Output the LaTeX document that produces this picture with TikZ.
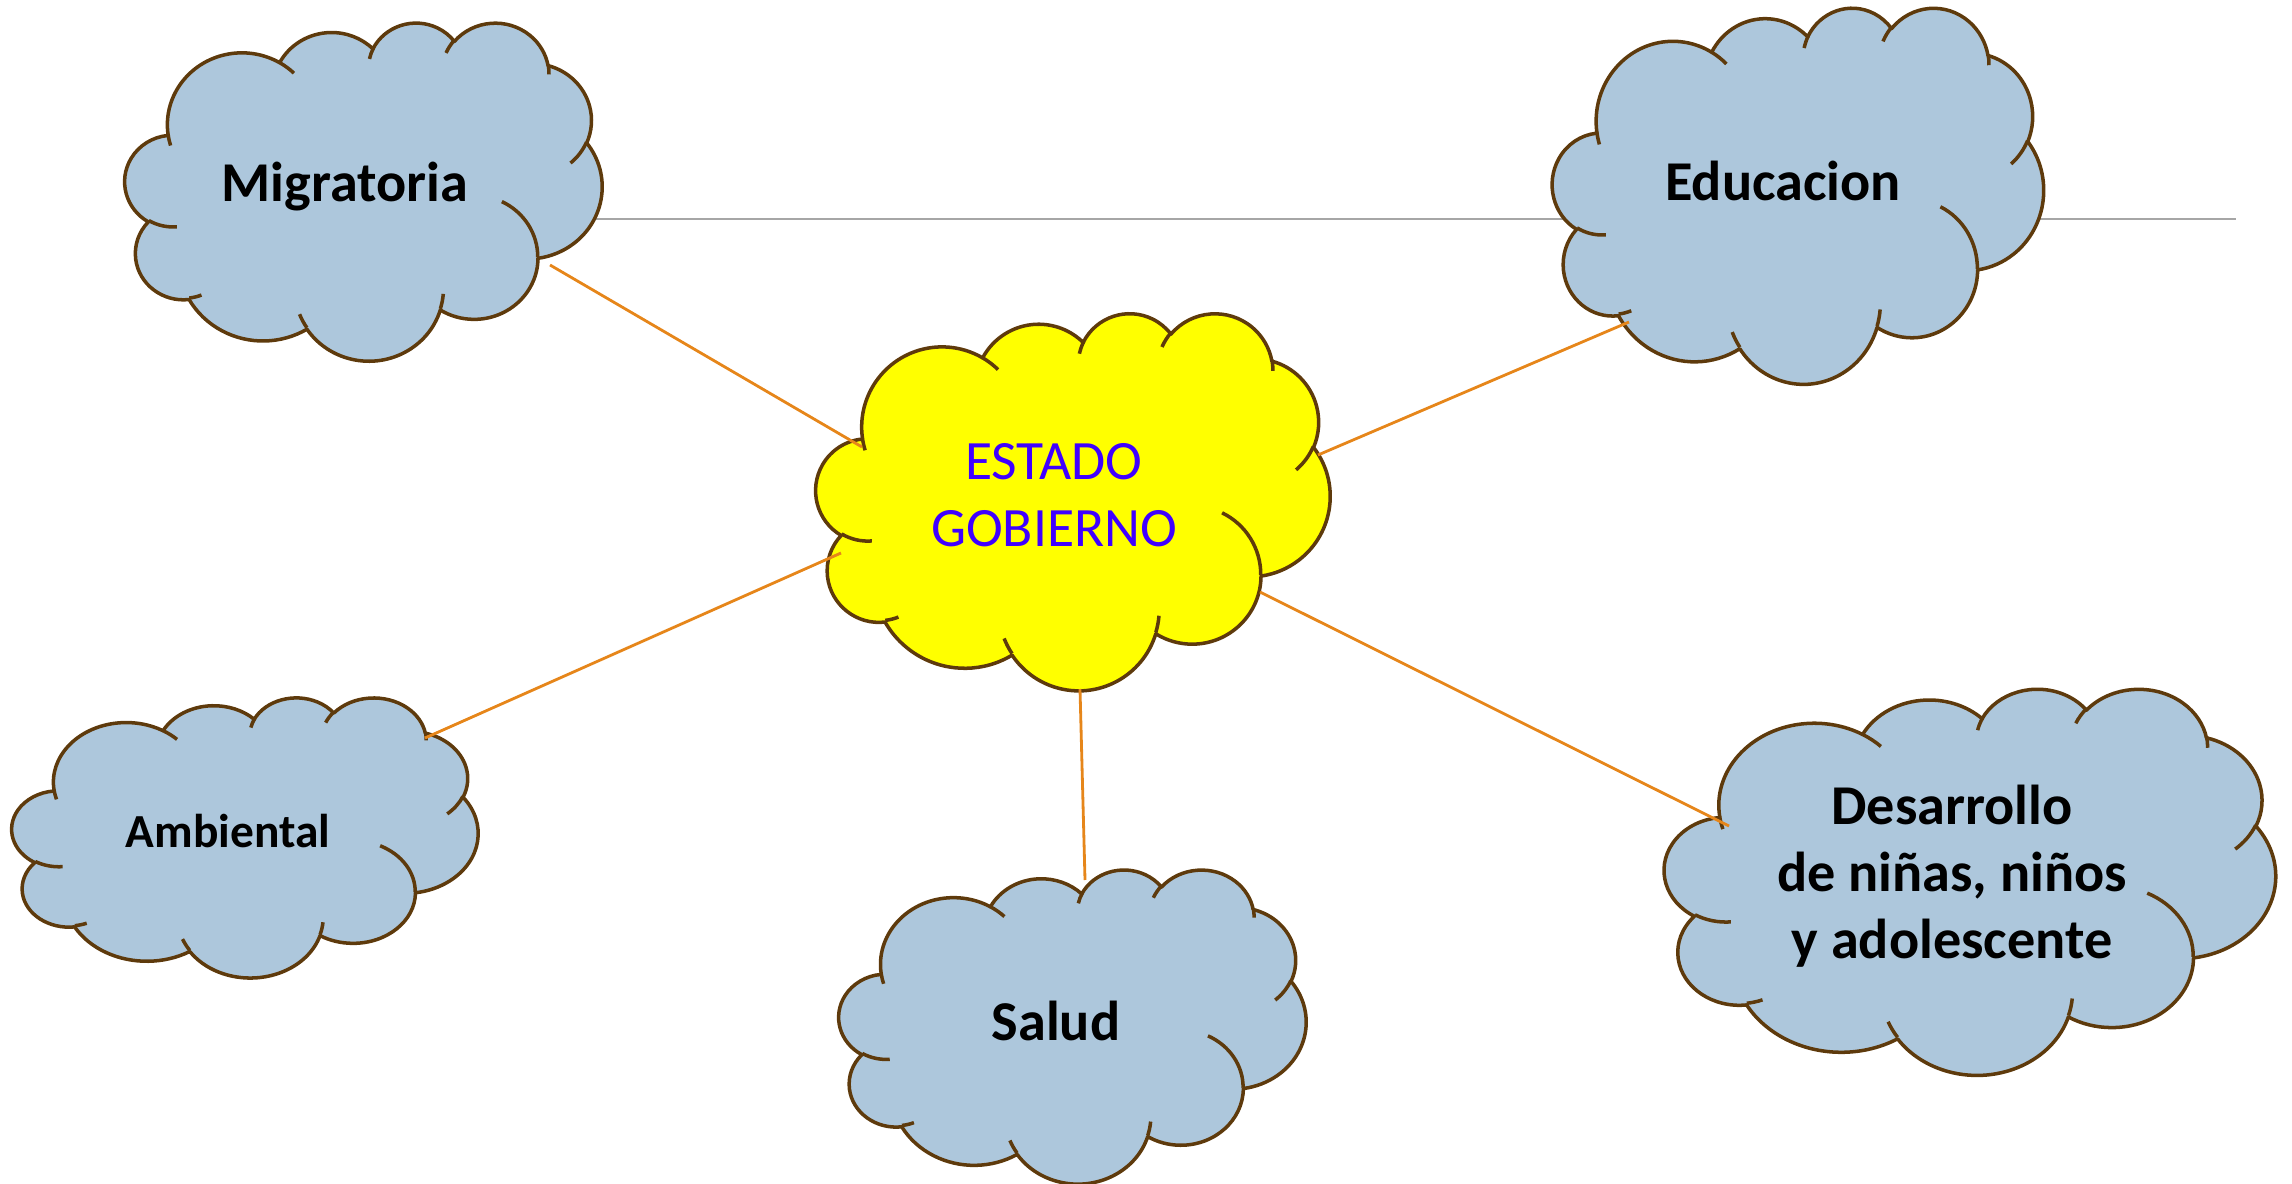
\documentclass[tikz,border=0pt]{standalone}
\usepackage{fontspec}
\setmainfont{Carlito}
\usepackage{xcolor}
\definecolor{cloudblue}{RGB}{173,199,220}
\definecolor{cloudedge}{RGB}{94,58,12}
\definecolor{cloudyellow}{RGB}{255,255,0}
\definecolor{linkorange}{RGB}{230,134,26}
\definecolor{rulegray}{RGB}{166,166,166}
\definecolor{estblue}{RGB}{63,0,255}
\usetikzlibrary{calc}

% cloud outline on a 43.2 x 43.2 grid: radii, start and sweep angles
\def\cloudmain{6.753/9.190/-190.48748/123.78053,5.333/7.267/-144.10238/89.94523,4.365/5.945/-145.80792/99.72302,4.857/6.595/-130.98607/117.24173,5.333/7.273/-78.70888/109.02692,6.775/9.220/-46.26725/130.26900,5.785/7.867/0.62502/114.03333,6.752/9.215/22.45160/115.17255,7.720/10.543/66.24263/75.71102,4.360/5.918/-274.94208/146.73557,4.345/5.945/-246.82850/152.51885}
% the small inner arcs
\def\cloudinner{4.693/26.177/4.345/5.945/86.74200/26.42950,6.928/34.899/4.360/5.918/73.61047/11.44747,16.478/39.090/6.752/9.215/137.62415/14.08110,28.827/34.751/6.752/9.215/6.45327/15.99835,34.129/22.954/5.785/7.867/-70.29235/70.91737,41.798/15.354/5.333/7.273/30.31803/27.75150,38.324/5.426/4.857/6.595/-13.74433/14.85890,29.078/3.952/4.857/6.595/-149.18145/18.19537,22.141/4.720/4.365/5.945/-163.49427/17.68635,14.000/5.192/6.753/9.190/-66.70695/12.31935,4.127/15.789/6.753/9.190/157.65435/11.85817}

\tikzset{
  cloudline/.style={draw=cloudedge,line width=1pt,line join=round},
  cloudbox/.style 2 args={minimum width=#1cm,minimum height=#2cm,inner sep=0pt},
  link/.style={draw=linkorange,line width=0.8pt},
  lbl/.style={font=\bfseries\fontsize{16}{19}\selectfont,anchor=base,inner sep=0pt},
}

\newcommand\cloudshape[5]{%
  \node[cloudbox={#3}{#4}] (#1) at #2 {};
  \begin{scope}[shift={#2},x=#3cm/43.2,y=-#4cm/43.2,shift={(-21.6,-21.6)}]
    \draw[cloudline,fill=#5] (3.9,14.37)
      \foreach \rx/\ry/\sa/\sw [evaluate={\sa as \ta using atan2(\rx*sin(\sa),\ry*cos(\sa))},
        evaluate={\sw as \tb using \ta+mod(atan2(\rx*sin(\sa+\sw),\ry*cos(\sa+\sw))-\ta+720,360)}] in \cloudmain
      {arc[x radius=\rx,y radius=\ry,start angle=\ta,end angle=\tb]} -- cycle;
    \draw[cloudline]
      \foreach \px/\py/\rx/\ry/\sa/\sw [evaluate={\sa as \ta using atan2(\rx*sin(\sa),\ry*cos(\sa))},
        evaluate={\sw as \tb using \ta+mod(atan2(\rx*sin(\sa+\sw),\ry*cos(\sa+\sw))-\ta+720,360)}] in \cloudinner
      {(\px,\py) arc[x radius=\rx,y radius=\ry,start angle=\ta,end angle=\tb]};
  \end{scope}}

\begin{document}
\begin{tikzpicture}
\useasboundingbox (0,0) rectangle (22.92,-11.84);

% gray rule behind the top clouds
\coordinate (rule start) at (3.6,-2.19);
\coordinate (rule end) at (22.36,-2.19);
\draw[rulegray,line width=0.7pt] (rule start) -- (rule end);

\cloudshape{mig}{(3.635,-1.91)}{4.77}{3.38}{cloudblue}
\cloudshape{edu}{(17.98,-1.95)}{4.91}{3.76}{cloudblue}
\cloudshape{est}{(10.73,-5.01)}{5.14}{3.77}{cloudyellow}
\cloudshape{amb}{(2.45,-8.37)}{4.66}{2.80}{cloudblue}
\cloudshape{sal}{(10.725,-10.26)}{4.67}{3.14}{cloudblue}
\cloudshape{des}{(19.70,-8.81)}{6.11}{3.86}{cloudblue}

\node[lbl] (mig-txt) at (3.45,-2.02) {Migratoria};
\node[lbl] (edu-txt) at (17.83,-2.01) {Educacion};
\node[lbl,font=\bfseries\fontsize{13.5}{16}\selectfont] (amb-txt) at (2.28,-8.47) {Ambiental};
\node[lbl] (sal-txt) at (10.56,-10.40) {Salud};
\node[lbl,anchor=center,align=center,font=\bfseries\fontsize{16}{19.06}\selectfont] (des-txt) at (19.52,-8.76) {Desarrollo\\ de niñas, niños\\ y adolescente};
\node[anchor=center,align=center,inner sep=0pt,text=estblue,font=\fontsize{15.8}{19.06}\selectfont] (est-txt) at (10.54,-4.95) {ESTADO\\GOBIERNO};

\draw[link] ([shift={(-2.11,0.54)}]est.center) -- ([shift={(1.865,-0.74)}]mig.center);
\draw[link] ([shift={(2.45,0.46)}]est.center) -- ([shift={(-1.69,-1.27)}]edu.center);
\draw[link] ([shift={(-2.32,-0.52)}]est.center) -- ([shift={(1.80,0.99)}]amb.center);
\draw[link] ([shift={(0.07,-1.88)}]est.center) -- ([shift={(0.125,1.46)}]sal.center);
\draw[link] ([shift={(1.87,-0.91)}]est.center) -- ([shift={(-2.41,0.55)}]des.center);
\end{tikzpicture}
\end{document}
